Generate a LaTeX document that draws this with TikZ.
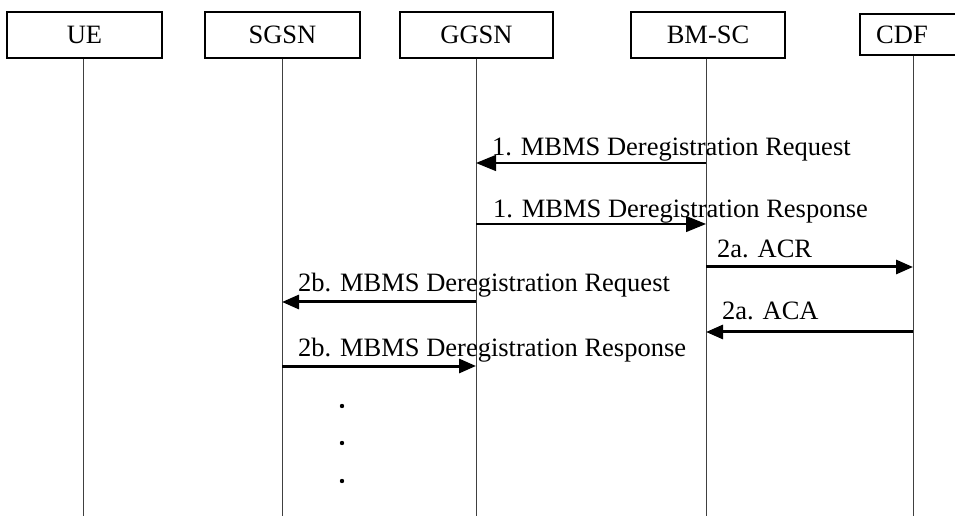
\documentclass[tikz,border=0pt]{standalone}
\usepackage{fontspec}
\setmainfont{Liberation Serif}
\usetikzlibrary{arrows.meta}
\begin{document}
\begin{tikzpicture}[x=1bp,y=-1bp,
  actorbox/.style={draw, line width=1.2bp, minimum height=46bp, inner sep=0pt,
    font=\fontsize{26.6}{31}\selectfont},
  lifeline/.style={draw=black!75, line width=1bp},
  msgthin/.style={line width=1.3bp, -{Triangle[length=20bp,width=16bp]}},
  msgthick/.style={line width=3bp, -{Triangle[length=17bp,width=14bp]}},
  lbl/.style={anchor=base west, inner sep=0pt, font=\fontsize{26.6}{31}\selectfont},
  dotmark/.style={fill=black}
]
\useasboundingbox (0,0) rectangle (955,516);
% actors
\node[actorbox, minimum width=155bp] (ue)   at (84.5,35) {UE};
\node[actorbox, minimum width=155bp] (sgsn) at (282.5,35) {SGSN};
\node[actorbox, minimum width=153bp] (ggsn) at (476.5,35) {GGSN};
\node[actorbox, minimum width=154bp] (bmsc) at (708,35) {BM-SC};
\node[actorbox, minimum width=100bp, minimum height=41bp] (cdf) at (910,34.5) {CDF\hspace*{16bp}};
% lifeline ends
\coordinate (ueE)   at (83,516);
\coordinate (sgsnE) at (282,516);
\coordinate (ggsnE) at (476,516);
\coordinate (bmscE) at (706,516);
\coordinate (cdfE)  at (913,516);
\draw[lifeline] (ueE |- ue.south) -- (ueE);
\draw[lifeline] (sgsnE |- sgsn.south) -- (sgsnE);
\draw[lifeline] (ggsnE |- ggsn.south) -- (ggsnE);
\draw[lifeline] (bmscE |- bmsc.south) -- (bmscE);
\draw[lifeline] (cdfE |- cdf.south) -- (cdfE);
% messages
\draw[msgthin] (bmscE |- 0,163) -- (ggsnE |- 0,163);
\node[lbl] (m1) at (492,156) {1. MBMS Deregistration Request};
\draw[msgthin] (ggsnE |- 0,224) -- (bmscE |- 0,224);
\node[lbl] (m2) at (493,218) {1. MBMS Deregistration Response};
\draw[msgthick] (bmscE |- 0,267) -- (cdfE |- 0,267);
\node[lbl] (m3) at (717,258) {2a. ACR};
\draw[msgthick] (ggsnE |- 0,302) -- (sgsnE |- 0,302);
\node[lbl] (m4) at (298,292) {2b. MBMS Deregistration Request};
\draw[msgthick] (cdfE |- 0,332) -- (bmscE |- 0,332);
\node[lbl] (m5) at (722,320) {2a. ACA};
\draw[msgthick] (sgsnE |- 0,366) -- (ggsnE |- 0,366);
\node[lbl] (m6) at (298,357) {2b. MBMS Deregistration Response};
% continuation dots
\fill[dotmark] (342,406) circle (2.2bp);
\fill[dotmark] (342,443) circle (2.2bp);
\fill[dotmark] (342,481) circle (2.2bp);
\end{tikzpicture}
\end{document}
